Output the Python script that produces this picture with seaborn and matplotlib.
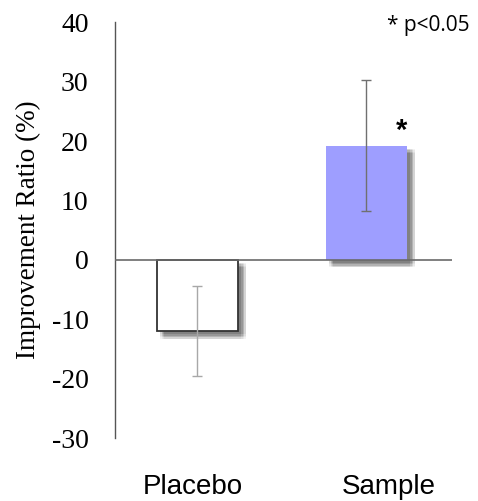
import matplotlib
matplotlib.use("Agg")
import matplotlib.pyplot as plt
import matplotlib.patheffects as pe
from matplotlib.transforms import ScaledTranslation
import seaborn as sns
import pandas as pd

# Data
groups = ["Placebo", "Sample"]
means = [-12.0, 19.2]
errors = [7.6, 11.0]
bar_colors = ["#ffffff", "#9e9eff"]
err_colors = ["#a8a8a8", "#707070"]
y_ticks = [-30, -20, -10, 0, 10, 20, 30, 40]

sns.set_style("white")
plt.rcParams["font.family"] = ["Liberation Serif", "DejaVu Serif"]
plt.rcParams["text.color"] = "black"
plt.rcParams["axes.labelcolor"] = "black"
plt.rcParams["xtick.color"] = "black"
plt.rcParams["ytick.color"] = "black"

fig = plt.figure(figsize=(4.78, 5.01), dpi=100)
ax = fig.add_axes([0.2406, 0.1257, 0.705, 0.830])

df = pd.DataFrame({"group": groups, "value": means})
sns.barplot(data=df, x="group", y="value", hue="group", palette=bar_colors,
            order=groups, legend=False, width=0.48, ax=ax, zorder=3,
            linewidth=0, saturation=1)

# soft drop shadow built from several faint offset copies
shadow = []
for dx in (-1.6, -0.5, 0.5, 1.6):
    for dy in (-1.6, -0.5, 0.5, 1.6):
        shadow.append(pe.SimplePatchShadow(offset=(3.8 + dx, -3.8 + dy),
                                           shadow_rgbFace="0.2", alpha=0.055))
shadow.append(pe.Normal())
for i, patch in enumerate(ax.patches):
    patch.set_path_effects(shadow)
    if i == 0:
        patch.set_edgecolor("#333333")
        patch.set_linewidth(1.3)

for i in range(len(groups)):
    ax.errorbar(i, means[i], yerr=errors[i], color=err_colors[i], lw=1.0,
                capsize=3.3, capthick=1.0, zorder=5)

ax.axhline(0, color="#6a6a6a", lw=1.2, zorder=4)

ax.set_ylim(-30, 40)
ax.set_xlim(-0.488, 1.506)
ax.set_yticks(y_ticks)
ax.set_yticklabels([str(t) for t in y_ticks], fontsize=20)
ax.tick_params(axis="y", length=0, pad=19)
ax.tick_params(axis="x", length=0, pad=26)
ax.set_xlabel("")
ax.set_ylabel("Improvement Ratio (%)", fontsize=19.5, labelpad=8)

for lbl, shift in zip(ax.get_xticklabels(), (-5, 22)):
    lbl.set_fontfamily(["Liberation Sans", "DejaVu Sans"])
    lbl.set_fontsize(20)
    lbl.set_transform(lbl.get_transform() + ScaledTranslation(shift / 100, 0, fig.dpi_scale_trans))

for side in ("top", "right", "bottom"):
    ax.spines[side].set_visible(False)
ax.spines["left"].set_color("#555555")
ax.spines["left"].set_linewidth(1.0)

ax.text(1.21, 19.3, "*", fontsize=21, fontweight="bold", ha="center",
        va="bottom", family=["Liberation Sans", "DejaVu Sans"], zorder=6)
fig.text(0.896, 0.950, "* p<0.05", fontsize=15, ha="center", va="center",
         family=["Open Sans", "DejaVu Sans"])

fig.savefig("out.png", dpi=100)
